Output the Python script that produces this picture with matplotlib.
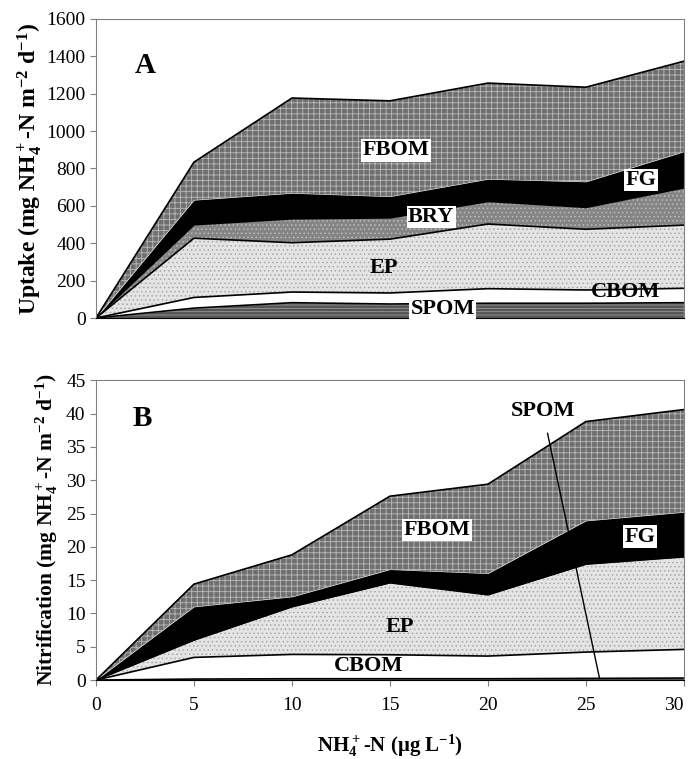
import matplotlib
matplotlib.use('Agg')
import matplotlib.pyplot as plt
import matplotlib.transforms as mtransforms
import numpy as np

plt.rcParams['font.family'] = ['Liberation Serif', 'DejaVu Serif']
plt.rcParams['mathtext.default'] = 'regular'
plt.rcParams['hatch.linewidth'] = 0.6

# NH4+-N concentration (ug/L)
conc = [0, 5, 10, 15, 20, 25, 30]

# A: uptake by compartment (mg NH4-N m-2 d-1), stacked bottom to top
up_spom = [0, 53, 82, 75, 79, 79, 82]
up_cbom = [0, 57, 57, 59, 78, 71, 77]
up_ep = [0, 317, 264, 288, 346, 325, 338]
up_bry = [0, 70, 126, 112, 119, 115, 198]
up_fg = [0, 134, 139, 116, 121, 139, 195]
up_fbom = [0, 203, 509, 512, 514, 506, 484]

# B: nitrification by compartment
ni_spom = [0, 0.15, 0.2, 0.2, 0.2, 0.25, 0.3]
ni_cbom = [0, 3.25, 3.65, 3.6, 3.4, 3.95, 4.3]
ni_ep = [0, 2.6, 7.15, 10.8, 9.2, 13.2, 13.9]
ni_fg = [0, 5.0, 1.5, 2.0, 3.2, 6.5, 6.7]
ni_fbom = [0, 3.4, 6.3, 11.0, 13.4, 14.9, 15.4]

# style per compartment: (facecolor, hatch colour, hatch, outline)
styles = {
    'SPOM': ('#555555', '#999999', '-----', True),
    'CBOM': ('white', 'white', None, True),
    'EP': ('#e4e4e4', '#a8a8a8', '....', True),
    'BRY': ('#858585', '#bcbcbc', '....', False),
    'FG': ('black', 'black', None, False),
    'FBOM': ('#6f6f6f', '#bababa', '+++', True),
}


def stack(ax, layers):
    x = np.array(conc)
    base = np.zeros(len(x))
    for name, vals in layers:
        top = base + np.array(vals)
        fc, hc, hatch, outline = styles[name]
        ax.fill_between(x, base, top, facecolor=fc, edgecolor=hc, hatch=hatch, linewidth=0)
        if outline:
            ax.plot(x, top, color='black', lw=1.2)
        base = top


def style_axes(ax, ymax, ystep):
    ax.set_xlim(0, 30)
    ax.set_ylim(0, ymax)
    ax.set_yticks(np.arange(0, ymax + 1e-9, ystep))
    ax.set_xticks([0, 5, 10, 15, 20, 25, 30])
    for s in ax.spines.values():
        s.set_color('#808080')
        s.set_linewidth(0.8)
    ax.spines['bottom'].set_color('black')
    ax.tick_params(axis='both', labelsize=14, color='#808080', length=4, width=0.8)


lab = dict(fontsize=16, fontweight='bold', ha='center', va='center')
wbox = dict(facecolor='white', edgecolor='none', pad=1.0)

fig = plt.figure(figsize=(6.88, 7.59), dpi=100)

axA = fig.add_axes([0.1395, 0.581, 0.8545, 0.394])
stack(axA, [('SPOM', up_spom), ('CBOM', up_cbom), ('EP', up_ep),
            ('BRY', up_bry), ('FG', up_fg), ('FBOM', up_fbom)])
style_axes(axA, 1600, 200)
axA.tick_params(axis='x', labelbottom=False, length=0)
axA.set_ylabel(r'Uptake (mg NH$_4^+$-N m$^{-2}$ d$^{-1}$)', fontsize=17, fontweight='bold', labelpad=2)
axA.text(2.5, 1353, 'A', fontsize=21, fontweight='bold', ha='center', va='center')
axA.text(15.3, 898, 'FBOM', bbox=wbox, **lab)
axA.text(27.8, 738, 'FG', bbox=wbox, **lab)
axA.text(17.1, 540, 'BRY', bbox=wbox, **lab)
axA.text(14.7, 267, 'EP', **lab)
axA.text(27.0, 139, 'CBOM', **lab)
axA.text(17.7, 48, 'SPOM', bbox=wbox, **lab)

axB = fig.add_axes([0.1395, 0.104, 0.8545, 0.395])
stack(axB, [('SPOM', ni_spom), ('CBOM', ni_cbom), ('EP', ni_ep),
            ('FG', ni_fg), ('FBOM', ni_fbom)])
style_axes(axB, 45, 5)
axB.tick_params(axis='x', pad=8)
axB.set_ylabel(r'Nitrification (mg NH$_4^+$-N m$^{-2}$ d$^{-1}$)', fontsize=15.5, fontweight='bold', labelpad=4)
axB.set_xlabel(r'NH$_4^+$-N ($\mu$g L$^{-1}$)', fontsize=15, fontweight='bold', labelpad=14)
axB.text(2.35, 39.3, 'B', fontsize=21, fontweight='bold', ha='center', va='center')
axB.text(17.4, 22.5, 'FBOM', bbox=wbox, **lab)
axB.text(27.75, 21.5, 'FG', bbox=wbox, **lab)
axB.text(15.5, 8.0, 'EP', **lab)
axB.text(13.9, 2.1, 'CBOM', **lab)
axB.annotate('SPOM', xy=(25.7, 0.2), xytext=(22.8, 40.4), fontsize=16, fontweight='bold',
             ha='center', va='center',
             arrowprops=dict(arrowstyle='-', color='black', lw=1.0, shrinkA=7, shrinkB=0))

# keep the last x tick label inside the figure
last = axB.get_xticklabels()[-1]
last.set_transform(last.get_transform() + mtransforms.ScaledTranslation(-7 / 72, 0, fig.dpi_scale_trans))

fig.savefig('out.png', dpi=100)
